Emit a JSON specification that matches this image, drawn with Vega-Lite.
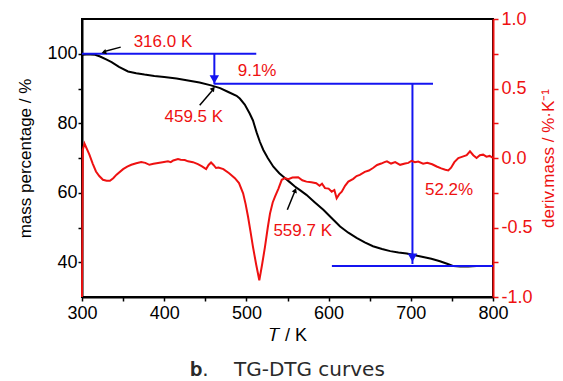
{
  "$schema": "https://vega.github.io/schema/vega-lite/v6.json",
  "width": 411,
  "height": 278,
  "autosize": "none",
  "padding": {"left": 82, "top": 19, "right": 70, "bottom": 84},
  "background": "white",
  "config": {
    "view": {"stroke": "black", "strokeWidth": 2},
    "axis": {
      "labelFont": "Liberation Sans, Arial, sans-serif",
      "titleFont": "Liberation Sans, Arial, sans-serif",
      "labelFontSize": 18,
      "titleFontSize": 17,
      "titleFontWeight": "normal",
      "grid": false,
      "domainWidth": 2,
      "tickWidth": 1.5,
      "tickSize": 4,
      "labelOverlap": false,
      "labelFlush": false,
      "domainColor": "black",
      "tickColor": "black",
      "labelColor": "black",
      "titleColor": "black"
    }
  },
  "title": {
    "text": "\ud835\udc1b.\u00a0\u00a0\u00a0\u00a0TG-DTG curves",
    "orient": "bottom",
    "anchor": "middle",
    "font": "DejaVu Sans, sans-serif",
    "fontSize": 20,
    "fontWeight": "normal",
    "color": "#2a2a2a",
    "offset": 16
  },
  "datasets": {
    "tg": [
      {"T": 300, "m": 99.7}, {"T": 305, "m": 99.8}, {"T": 310, "m": 99.8}, {"T": 316, "m": 99.7},
      {"T": 322, "m": 99.2}, {"T": 330, "m": 98.3}, {"T": 336, "m": 97.6}, {"T": 345, "m": 96.2},
      {"T": 356, "m": 94.9}, {"T": 366, "m": 94.4}, {"T": 376, "m": 94.0}, {"T": 388, "m": 93.6},
      {"T": 400, "m": 93.3}, {"T": 415, "m": 92.9}, {"T": 429, "m": 92.3}, {"T": 443, "m": 91.7},
      {"T": 457, "m": 90.9}, {"T": 468, "m": 90.1}, {"T": 478, "m": 89.0}, {"T": 488, "m": 87.9},
      {"T": 492, "m": 87.1}, {"T": 498, "m": 85.4}, {"T": 504, "m": 82.8}, {"T": 508, "m": 80.8},
      {"T": 512.5, "m": 77.3}, {"T": 516.5, "m": 74.6}, {"T": 520.6, "m": 72.3}, {"T": 526, "m": 70.0},
      {"T": 532.8, "m": 67.5}, {"T": 540, "m": 65.6}, {"T": 545, "m": 64.6}, {"T": 552, "m": 63.2},
      {"T": 559, "m": 61.8}, {"T": 566, "m": 60.6}, {"T": 573, "m": 59.4}, {"T": 583, "m": 57.3},
      {"T": 593.6, "m": 55.1}, {"T": 603, "m": 52.9}, {"T": 614, "m": 50.3}, {"T": 624, "m": 48.5},
      {"T": 634, "m": 47.0}, {"T": 644, "m": 45.7}, {"T": 654, "m": 44.6}, {"T": 665, "m": 43.8},
      {"T": 675, "m": 43.2}, {"T": 685, "m": 42.8}, {"T": 695, "m": 42.5}, {"T": 705, "m": 42.0},
      {"T": 715, "m": 41.5}, {"T": 725, "m": 41.0}, {"T": 735.5, "m": 40.3}, {"T": 745, "m": 39.5},
      {"T": 752, "m": 38.9}, {"T": 760, "m": 38.8}, {"T": 770, "m": 38.8}, {"T": 780, "m": 38.9},
      {"T": 790, "m": 38.9}, {"T": 800, "m": 38.9}
    ],
    "dtg": [
      {"T": 300, "d": -1.0}, {"T": 301, "d": 0.06}, {"T": 303, "d": 0.104}, {"T": 309, "d": 0.024},
      {"T": 313, "d": -0.04}, {"T": 317, "d": -0.097}, {"T": 321, "d": -0.13}, {"T": 325.5, "d": -0.157},
      {"T": 330, "d": -0.163}, {"T": 334, "d": -0.164}, {"T": 338, "d": -0.145}, {"T": 342, "d": -0.12},
      {"T": 350, "d": -0.08}, {"T": 355, "d": -0.062}, {"T": 360, "d": -0.049}, {"T": 366, "d": -0.038},
      {"T": 372, "d": -0.029}, {"T": 377, "d": -0.035}, {"T": 382, "d": -0.049}, {"T": 387, "d": -0.042},
      {"T": 392.5, "d": -0.036}, {"T": 398, "d": -0.03}, {"T": 404.6, "d": -0.024}, {"T": 408, "d": -0.03},
      {"T": 411, "d": -0.018}, {"T": 416.8, "d": -0.007}, {"T": 420, "d": -0.012}, {"T": 425, "d": -0.015},
      {"T": 429, "d": -0.024}, {"T": 435, "d": -0.03}, {"T": 441, "d": -0.044}, {"T": 446, "d": -0.06},
      {"T": 451, "d": -0.08}, {"T": 454, "d": -0.05}, {"T": 457, "d": -0.032}, {"T": 460, "d": -0.05},
      {"T": 463, "d": -0.072}, {"T": 466, "d": -0.068}, {"T": 472, "d": -0.08}, {"T": 479, "d": -0.11},
      {"T": 486, "d": -0.145}, {"T": 491, "d": -0.18}, {"T": 496, "d": -0.254}, {"T": 499, "d": -0.33},
      {"T": 502, "d": -0.423}, {"T": 505, "d": -0.53}, {"T": 508, "d": -0.64}, {"T": 512, "d": -0.77},
      {"T": 515.7, "d": -0.88}, {"T": 519, "d": -0.77}, {"T": 522.6, "d": -0.64}, {"T": 526, "d": -0.5},
      {"T": 528.7, "d": -0.4}, {"T": 532, "d": -0.32}, {"T": 534.8, "d": -0.278}, {"T": 539, "d": -0.22},
      {"T": 543, "d": -0.157}, {"T": 547, "d": -0.145}, {"T": 551, "d": -0.152}, {"T": 556, "d": -0.14},
      {"T": 563, "d": -0.138}, {"T": 568, "d": -0.16}, {"T": 573, "d": -0.17}, {"T": 579, "d": -0.175},
      {"T": 585, "d": -0.181}, {"T": 589, "d": -0.2}, {"T": 592, "d": -0.185}, {"T": 595.6, "d": -0.217},
      {"T": 600, "d": -0.22}, {"T": 603.8, "d": -0.242}, {"T": 607, "d": -0.23}, {"T": 609.8, "d": -0.29},
      {"T": 613, "d": -0.26}, {"T": 616, "d": -0.242}, {"T": 620, "d": -0.2}, {"T": 624, "d": -0.17},
      {"T": 630, "d": -0.15}, {"T": 634, "d": -0.13}, {"T": 638, "d": -0.121}, {"T": 644, "d": -0.1},
      {"T": 649, "d": -0.09}, {"T": 654, "d": -0.072}, {"T": 659, "d": -0.05}, {"T": 664, "d": -0.04},
      {"T": 668, "d": -0.03}, {"T": 671, "d": -0.024}, {"T": 676, "d": -0.04}, {"T": 681, "d": -0.03},
      {"T": 687, "d": -0.049}, {"T": 693, "d": -0.04}, {"T": 697, "d": -0.035}, {"T": 701, "d": -0.02},
      {"T": 705, "d": -0.03}, {"T": 709, "d": -0.025}, {"T": 715, "d": -0.041}, {"T": 720, "d": -0.035},
      {"T": 726, "d": -0.045}, {"T": 731.5, "d": -0.061}, {"T": 737, "d": -0.075}, {"T": 742, "d": -0.085},
      {"T": 745.6, "d": -0.09}, {"T": 749, "d": -0.07}, {"T": 753, "d": -0.03}, {"T": 757.8, "d": 0.0},
      {"T": 763, "d": 0.01}, {"T": 768, "d": 0.02}, {"T": 772, "d": 0.048}, {"T": 776, "d": 0.02},
      {"T": 780, "d": 0.0}, {"T": 784, "d": 0.02}, {"T": 788, "d": 0.024}, {"T": 792, "d": 0.01},
      {"T": 796, "d": 0.015}, {"T": 800, "d": 0.0}
    ],
    "hr": [
      {"T": 300, "T2": 512, "m": 100},
      {"T": 461, "T2": 727, "m": 91.4},
      {"T": 604, "T2": 800, "m": 38.9}
    ],
    "vr": [
      {"T": 461, "m": 100, "m2": 91.2},
      {"T": 702, "m": 91.4, "m2": 39.5}
    ],
    "ah": [
      {"T": 461, "m": 92.6},
      {"T": 702, "m": 41.3}
    ],
    "arr": [
      {"id": "a", "T": 347.1, "m": 101.9}, {"id": "a", "T": 326, "m": 100.6},
      {"id": "b", "T": 443.2, "m": 85.2}, {"id": "b", "T": 459.6, "m": 89.7},
      {"id": "c", "T": 549.8, "m": 55.1}, {"id": "c", "T": 559.2, "m": 60.6}
    ],
    "lbl": [
      {"label": "316.0 K", "T": 398.5, "m": 103.3},
      {"label": "9.1%", "T": 513, "m": 95.0},
      {"label": "459.5 K", "T": 436, "m": 81.7},
      {"label": "559.7 K", "T": 568.5, "m": 48.9},
      {"label": "52.2%", "T": 746.5, "m": 60.7}
    ]
  },
  "layer": [
    {
      "layer": [
        {
          "data": {"name": "tg"},
          "mark": {"type": "line", "color": "black", "strokeWidth": 2},
          "encoding": {
            "x": {
              "field": "T", "type": "quantitative",
              "scale": {"domain": [300, 800], "nice": false},
              "axis": {
                "title": "𝑇 / K",
                "titleFontSize": 18,
                "values": [300, 350, 400, 450, 500, 550, 600, 650, 700, 750, 800],
                "labelExpr": "datum.value % 100 == 0 ? datum.label : ''",
                "format": "d",
                "labelPadding": 3,
                "titlePadding": 4
              }
            },
            "y": {
              "field": "m", "type": "quantitative",
              "scale": {"domain": [30, 110], "nice": false},
              "axis": {
                "title": "mass percentage / %",
                "orient": "left",
                "values": [40, 50, 60, 70, 80, 90, 100],
                "labelExpr": "datum.value % 20 == 0 ? datum.label : ''",
                "labelPadding": 1,
                "titlePadding": 12
              }
            }
          }
        },
        {
          "data": {"name": "hr"},
          "mark": {"type": "rule", "color": "#1414f0", "strokeWidth": 2},
          "encoding": {
            "x": {"field": "T", "type": "quantitative"},
            "x2": {"field": "T2"},
            "y": {"field": "m", "type": "quantitative"}
          }
        },
        {
          "data": {"name": "vr"},
          "mark": {"type": "rule", "color": "#1414f0", "strokeWidth": 2},
          "encoding": {
            "x": {"field": "T", "type": "quantitative"},
            "y": {"field": "m", "type": "quantitative"},
            "y2": {"field": "m2"}
          }
        },
        {
          "data": {"name": "ah"},
          "mark": {"type": "point", "shape": "triangle-down", "filled": true, "color": "#1414f0", "size": 90, "opacity": 1},
          "encoding": {
            "x": {"field": "T", "type": "quantitative"},
            "y": {"field": "m", "type": "quantitative"}
          }
        },
        {
          "data": {"name": "arr"},
          "mark": {"type": "line", "color": "black", "strokeWidth": 1.5},
          "encoding": {
            "x": {"field": "T", "type": "quantitative"},
            "y": {"field": "m", "type": "quantitative"},
            "detail": {"field": "id"}
          }
        },
        {
          "data": {"values": [{"T": 327.5, "m": 100.5}]},
          "mark": {"type": "point", "shape": "triangle", "filled": true, "color": "black", "size": 30, "opacity": 1, "angle": 254},
          "encoding": {"x": {"field": "T", "type": "quantitative"}, "y": {"field": "m", "type": "quantitative"}}
        },
        {
          "data": {"values": [{"T": 459.1, "m": 89.8}]},
          "mark": {"type": "point", "shape": "triangle", "filled": true, "color": "black", "size": 30, "opacity": 1, "angle": 39},
          "encoding": {"x": {"field": "T", "type": "quantitative"}, "y": {"field": "m", "type": "quantitative"}}
        },
        {
          "data": {"values": [{"T": 559, "m": 60.5}]},
          "mark": {"type": "point", "shape": "triangle", "filled": true, "color": "black", "size": 30, "opacity": 1, "angle": 22},
          "encoding": {"x": {"field": "T", "type": "quantitative"}, "y": {"field": "m", "type": "quantitative"}}
        },
        {
          "data": {"name": "lbl"},
          "mark": {"type": "text", "color": "#ee1111", "font": "Liberation Sans, Arial, sans-serif", "fontSize": 17, "align": "center", "baseline": "middle"},
          "encoding": {
            "x": {"field": "T", "type": "quantitative"},
            "y": {"field": "m", "type": "quantitative"},
            "text": {"field": "label"}
          }
        }
      ]
    },
    {
      "data": {"name": "dtg"},
      "mark": {"type": "line", "color": "#ee1111", "strokeWidth": 2},
      "encoding": {
        "x": {"field": "T", "type": "quantitative"},
        "y": {
          "field": "d", "type": "quantitative",
          "scale": {"domain": [-1, 1], "nice": false},
          "axis": {
            "title": "deriv.mass / %·K⁻¹",
            "orient": "right",
            "values": [-1, -0.75, -0.5, -0.25, 0, 0.25, 0.5, 0.75, 1],
            "labelExpr": "datum.value % 0.5 == 0 ? replace(format(datum.value, '.1f'), '−', '-') : ''",
            "domainColor": "#ee1111",
            "tickColor": "#ee1111",
            "labelColor": "#ee1111",
            "titleColor": "#ee1111",
            "tickSize": 5,
            "labelPadding": 3,
            "titlePadding": 8,
            "titleAngle": -90,
            "titleBaseline": "top"
          }
        }
      }
    }
  ],
  "resolve": {"scale": {"y": "independent"}}
}
